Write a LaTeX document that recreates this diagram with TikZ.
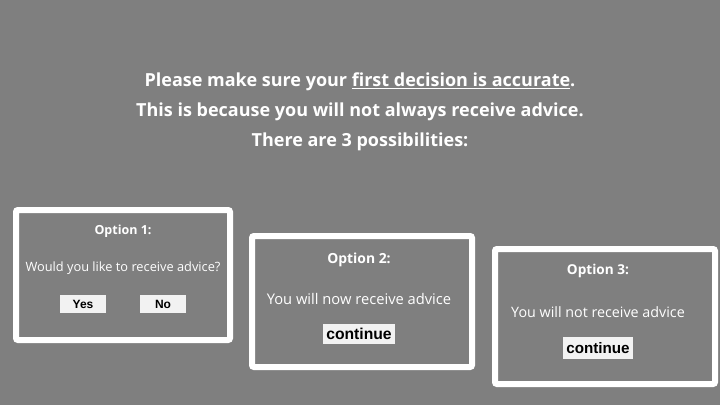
\documentclass[tikz,border=0pt]{standalone}
\usepackage{fontspec}
\setmainfont{Open Sans}
\newfontfamily\btnfont{Liberation Sans}
\definecolor{bggray}{HTML}{7F7F7F}
\definecolor{btngray}{HTML}{F2F2F2}
\tikzset{
  optbox/.style={draw=white, line width=6pt, rounded corners=2pt, fill=bggray},
  optitle/.style={text=white, font=\fontsize{#1}{#1}\selectfont\bfseries},
  optline/.style={text=white, font=\fontsize{#1}{#1}\selectfont},
  btn/.style={fill=btngray, text=black, font=\btnfont\fontsize{#1}{#1}\selectfont\bfseries,
    inner sep=0pt},
  headline/.style={text=white, font=\fontsize{18}{20}\selectfont\bfseries}
}
\begin{document}
\begin{tikzpicture}[x=1pt,y=-1pt]
        \fill[bggray] (0,0) rectangle (720,405);
        \useasboundingbox (0,0) rectangle (720,405);
        % heading
        \node[headline] (head1) at (360,82) {Please make sure your \underline{first decision is accurate}.};
        \node[headline] (head2) at (360,112) {This is because you will not always receive advice.};
        \node[headline] (head3) at (360,142) {There are 3 possibilities:};
        % option 1
        \draw[optbox] (16,210) rectangle (230,340);
        \node[optitle=12.5] (opt1) at (123,231) {Option 1:};
        \node[optline=12.8] (ask1) at (123,268) {Would you like to receive advice?};
        \node[btn=12, minimum width=46pt, minimum height=18pt] (yes) at (83,304) {Yes};
        \node[btn=12, minimum width=46pt, minimum height=18pt] (no) at (163,304) {No};
        % option 2
        \draw[optbox] (252,236) rectangle (472,367);
        \node[optitle=13.9] (opt2) at (359,260) {Option 2:};
        \node[optline=14.7] (say2) at (359,299) {You will now receive advice};
        \node[btn=15.7, minimum width=72pt, minimum height=20pt] (cont2) at (359,334) {continue};
        % option 3
        \draw[optbox] (495,249) rectangle (715,384);
        \node[optitle=13.6] (opt3) at (598,271) {Option 3:};
        \node[optline=14.3] (say3) at (598,312) {You will not receive advice};
        \node[btn=15.2, minimum width=70pt, minimum height=22pt] (cont3) at (598,348) {continue};
\end{tikzpicture}
\end{document}
